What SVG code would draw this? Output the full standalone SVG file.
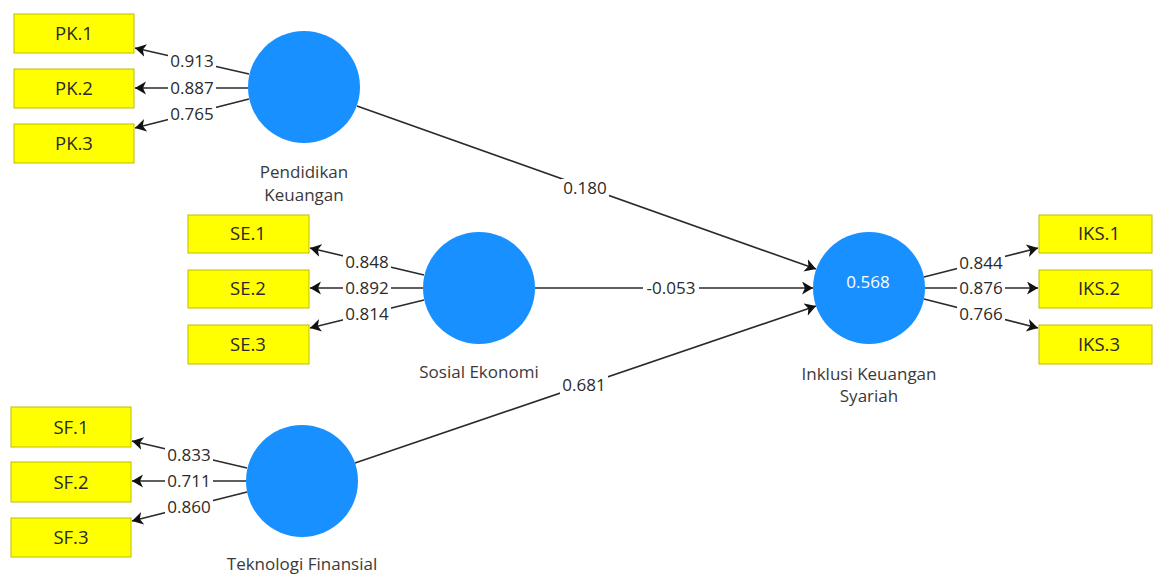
<svg xmlns="http://www.w3.org/2000/svg" width="1155" height="577" viewBox="0 0 1155 577">
  <style>
    .ind rect { fill: #FFFF00; stroke: #BDBD00; stroke-width: 1; }
    .ind text { font-family: "Open Sans", "Liberation Sans", sans-serif; font-size: 18.5px; fill: #2a2a2a; text-anchor: middle; }
    .lv circle { fill: #1890FF; }
    .lv text { font-family: "Open Sans", "Liberation Sans", sans-serif; font-size: 17px; fill: #3a3a3a; text-anchor: middle; }
    .lv text.r2 { fill: #ffffff; }
    .edge line { stroke: #2a2a2a; stroke-width: 1.6; marker-end: url(#arr); }
    .lbl rect { fill: #ffffff; }
    .lbl text { font-family: "Open Sans", "Liberation Sans", sans-serif; font-size: 17px; fill: #2a2a2a; text-anchor: middle; }
  </style>
  <defs>
    <marker id="arr" markerUnits="userSpaceOnUse" markerWidth="14" markerHeight="14" refX="11" refY="6.5" orient="auto">
      <path d="M0,0 L11,6.5 L0,13 L3,6.5 z" fill="#111"/>
    </marker>
  </defs>
  <rect width="1155" height="577" fill="#ffffff"/>

  <g id="connectors">
    <g class="edge">
      <line x1="249" y1="74" x2="135" y2="48"/>
      <line x1="248" y1="88" x2="135" y2="88"/>
      <line x1="249" y1="99" x2="135" y2="128"/>
      <line x1="424" y1="275" x2="310" y2="248"/>
      <line x1="423" y1="288" x2="310" y2="288"/>
      <line x1="424" y1="300" x2="310" y2="328"/>
      <line x1="247" y1="468" x2="132" y2="441"/>
      <line x1="246" y1="481" x2="132" y2="481"/>
      <line x1="247" y1="492" x2="132" y2="521"/>
      <line x1="924" y1="277" x2="1038" y2="248"/>
      <line x1="925" y1="288" x2="1038" y2="288"/>
      <line x1="924" y1="299" x2="1038" y2="328"/>
      <line x1="357" y1="106" x2="816" y2="269"/>
      <line x1="535" y1="288" x2="813" y2="288"/>
      <line x1="355" y1="463" x2="816" y2="306"/>
    </g>
    <g class="lbl">
      <rect x="168" y="52" width="48" height="18"/><text x="192" y="67">0.913</text>
      <rect x="168" y="79" width="48" height="18"/><text x="192" y="94">0.887</text>
      <rect x="168" y="105" width="48" height="18"/><text x="192" y="120">0.765</text>
      <rect x="343" y="253" width="48" height="18"/><text x="367" y="268">0.848</text>
      <rect x="343" y="279" width="48" height="18"/><text x="367" y="294">0.892</text>
      <rect x="343" y="305" width="48" height="18"/><text x="367" y="320">0.814</text>
      <rect x="165" y="446" width="48" height="18"/><text x="189" y="461">0.833</text>
      <rect x="165" y="472" width="48" height="18"/><text x="189" y="487">0.711</text>
      <rect x="165" y="498" width="48" height="18"/><text x="189" y="513">0.860</text>
      <rect x="957" y="254" width="48" height="18"/><text x="981" y="269">0.844</text>
      <rect x="957" y="279" width="48" height="18"/><text x="981" y="294">0.876</text>
      <rect x="957" y="305" width="48" height="18"/><text x="981" y="320">0.766</text>
      <rect x="561" y="179" width="48" height="18"/><text x="585" y="194">0.180</text>
      <rect x="643" y="279" width="56" height="18"/><text x="671" y="294">-0.053</text>
      <rect x="560" y="376" width="48" height="18"/><text x="584" y="391">0.681</text>
    </g>
  </g>

  <g id="PK1" class="ind"><rect x="14" y="14" width="120" height="39"/><text x="74" y="40">PK.1</text></g>
  <g id="PK2" class="ind"><rect x="14" y="69" width="120" height="39"/><text x="74" y="95">PK.2</text></g>
  <g id="PK3" class="ind"><rect x="14" y="124" width="120" height="39"/><text x="74" y="150">PK.3</text></g>
  <g id="SE1" class="ind"><rect x="188" y="215" width="121" height="38"/><text x="248" y="240">SE.1</text></g>
  <g id="SE2" class="ind"><rect x="188" y="270" width="121" height="38"/><text x="248" y="295">SE.2</text></g>
  <g id="SE3" class="ind"><rect x="188" y="325" width="121" height="39"/><text x="248" y="351">SE.3</text></g>
  <g id="SF1" class="ind"><rect x="11" y="407" width="120" height="40"/><text x="71" y="434">SF.1</text></g>
  <g id="SF2" class="ind"><rect x="11" y="462" width="120" height="40"/><text x="71" y="489">SF.2</text></g>
  <g id="SF3" class="ind"><rect x="11" y="518" width="120" height="39"/><text x="71" y="544">SF.3</text></g>
  <g id="IKS1" class="ind"><rect x="1039" y="215" width="113" height="38"/><text x="1099" y="240">IKS.1</text></g>
  <g id="IKS2" class="ind"><rect x="1039" y="270" width="113" height="38"/><text x="1099" y="295">IKS.2</text></g>
  <g id="IKS3" class="ind"><rect x="1039" y="325" width="113" height="39"/><text x="1099" y="351">IKS.3</text></g>

  <g id="PendidikanKeuangan" class="lv">
    <circle cx="304" cy="87" r="56"/>
    <text x="304" y="178">Pendidikan</text>
    <text x="304" y="201">Keuangan</text>
  </g>
  <g id="SosialEkonomi" class="lv">
    <circle cx="479" cy="288" r="56"/>
    <text x="479" y="378">Sosial Ekonomi</text>
  </g>
  <g id="TeknologiFinansial" class="lv">
    <circle cx="302" cy="481" r="56"/>
    <text x="302" y="570">Teknologi Finansial</text>
  </g>
  <g id="InklusiKeuanganSyariah" class="lv">
    <circle cx="869" cy="288" r="56"/>
    <text class="r2" x="868" y="288">0.568</text>
    <text x="869" y="380">Inklusi Keuangan</text>
    <text x="869" y="402">Syariah</text>
  </g>
</svg>
